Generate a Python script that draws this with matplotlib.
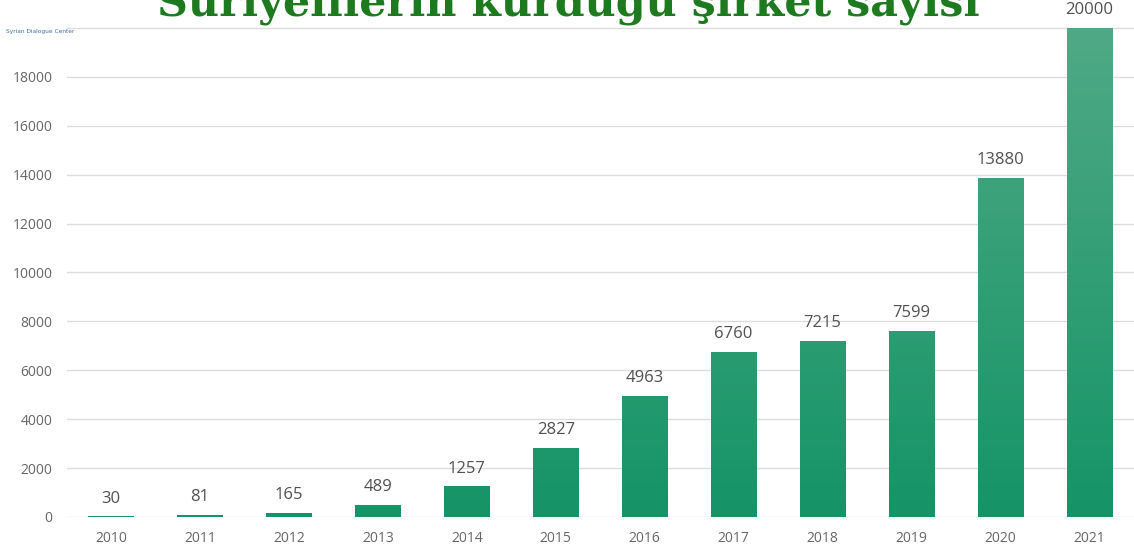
import matplotlib
matplotlib.use("Agg")
import matplotlib.pyplot as plt
import numpy as np
from matplotlib.colors import LinearSegmentedColormap

years = ["2010", "2011", "2012", "2013", "2014", "2015", "2016", "2017",
         "2018", "2019", "2020", "2021"]
companies = [30, 81, 165, 489, 1257, 2827, 4963, 6760, 7215, 7599, 13880, 20000]
y_ticks = [0, 2000, 4000, 6000, 8000, 10000, 12000, 14000, 16000, 18000, 20000]
title = "Suriyelilerin kurduğu şirket sayısı"

W, H = 1134, 554
fig = plt.figure(figsize=(W / 100, H / 100), dpi=100)
fig.patch.set_facecolor("white")

ax_left = 66.5 / W
ax_right = 1.0
ax_bottom = 1 - 517 / H
ax_top = 1 - 3.5 / H
ax = fig.add_axes([ax_left, ax_bottom, ax_right - ax_left, ax_top - ax_bottom])

ymax = 21000
x = np.arange(len(years))
bars = ax.bar(x, companies, width=0.51, color="#1a966a", zorder=2)

cmap = LinearSegmentedColormap.from_list("g", ["#159467", "#50a986"])
grad = np.linspace(0, 1, 256).reshape(-1, 1)
for b in bars:
    x0 = b.get_x()
    x1 = x0 + b.get_width()
    im = ax.imshow(grad, cmap=cmap, origin="lower", aspect="auto",
                   extent=[x0, x1, 0, 20000], zorder=3, interpolation="bilinear")
    im.set_clip_path(b)
    b.set_alpha(0)
ax.set_xlim(-0.5, len(years) - 0.5)
ax.set_ylim(0, ymax)

for xi, v in zip(x, companies):
    ax.annotate(f"{v}", (xi, v), xytext=(0, 7), textcoords="offset points",
                ha="center", va="bottom", fontsize=12, color="#505050",
                family="Open Sans", zorder=4)

ax.set_yticks(y_ticks)
ax.set_yticklabels([str(t) if t < 20000 else "" for t in y_ticks])
ax.set_xticks(x)
ax.set_xticklabels(years)
ax.grid(axis="y", color="#dcdcdc", linewidth=1.0, zorder=0)
ax.set_axisbelow(True)
for s in ax.spines.values():
    s.set_visible(False)
ax.tick_params(axis="both", length=0, labelsize=10)
ax.tick_params(axis="y", pad=10)
ax.tick_params(axis="x", pad=10)
for lab in ax.get_xticklabels() + ax.get_yticklabels():
    lab.set_family("Open Sans")
    lab.set_color("#666666")

# title fitted to target width
t = fig.text(568 / W, 1 - 16 / H, title, ha="center", va="baseline",
             fontsize=28, fontweight="bold", family="DejaVu Serif",
             color="#1d7a1f", zorder=10)
fig.canvas.draw()
r = fig.canvas.get_renderer()
wpx = t.get_window_extent(r).width
t.set_fontsize(28 * 823 / wpx)

fig.text(6 / W, 1 - 32 / H, "Syrian Dialogue Center", ha="left", va="center",
         fontsize=4.2, color="#3b6ea5", family="DejaVu Sans")

fig.savefig("out.png", dpi=100, facecolor="white")
